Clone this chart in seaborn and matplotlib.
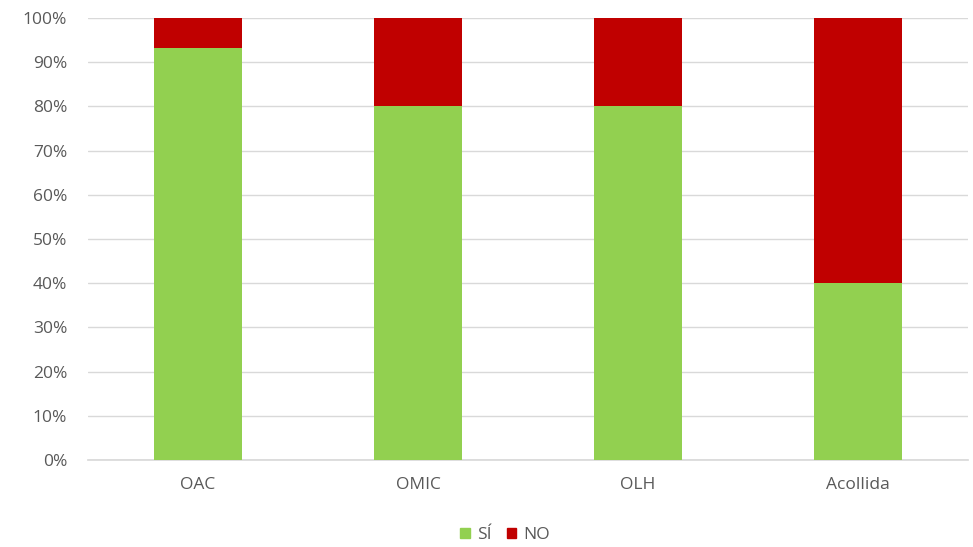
import matplotlib
matplotlib.use("Agg")
import matplotlib.pyplot as plt
import seaborn as sns
import pandas as pd
from matplotlib.patches import Patch
from matplotlib.ticker import PercentFormatter

categories = ["OAC", "OMIC", "OLH", "Acollida"]
si_pct = [93.3, 80.0, 80.0, 40.0]
no_pct = [6.7, 20.0, 20.0, 60.0]
series_labels = ["SÍ", "NO"]

green = "#92d050"
red = "#c00000"
text_grey = "#595959"

sns.set_theme(style="white")
plt.rcParams["font.family"] = ["Open Sans", "DejaVu Sans"]

df = pd.DataFrame({"cat": categories, "si": si_pct, "no": no_pct})
df["total"] = df["si"] + df["no"]

fig = plt.figure(figsize=(9.73, 5.47), dpi=100)
ax = fig.add_axes([88 / 973, 1 - 460 / 547, 880 / 973, 442 / 547])

# NO stacked on top of SÍ: draw full height in red, then the SÍ part over it
sns.barplot(data=df, x="cat", y="total", color=red, width=0.4, ax=ax,
            saturation=1, linewidth=0, zorder=2)
sns.barplot(data=df, x="cat", y="si", color=green, width=0.4, ax=ax,
            saturation=1, linewidth=0, zorder=3)

ax.set_ylim(0, 100)
ax.set_xlim(-0.5, len(categories) - 0.5)
ax.set_yticks(range(0, 101, 10))
ax.yaxis.set_major_formatter(PercentFormatter(decimals=0))
ax.grid(axis="y", color="#d9d9d9", linewidth=1, zorder=0)
ax.set_axisbelow(True)
for s in ["top", "right", "left"]:
    ax.spines[s].set_visible(False)
ax.spines["bottom"].set_color("#d9d9d9")
ax.set_xlabel("")
ax.set_ylabel("")
ax.tick_params(axis="both", length=0, colors=text_grey, labelsize=12.5)
ax.tick_params(axis="y", pad=15)
ax.tick_params(axis="x", pad=12)

handles = [Patch(color=green, label=series_labels[0]),
           Patch(color=red, label=series_labels[1])]
fig.legend(handles=handles, loc="center", bbox_to_anchor=(505 / 973, 1 - 535 / 547),
           ncol=2, frameon=False, fontsize=12.5, handlelength=0.55,
           handleheight=0.55, handletextpad=0.4, columnspacing=0.9,
           labelcolor=text_grey)

fig.savefig("out.png", dpi=100)
